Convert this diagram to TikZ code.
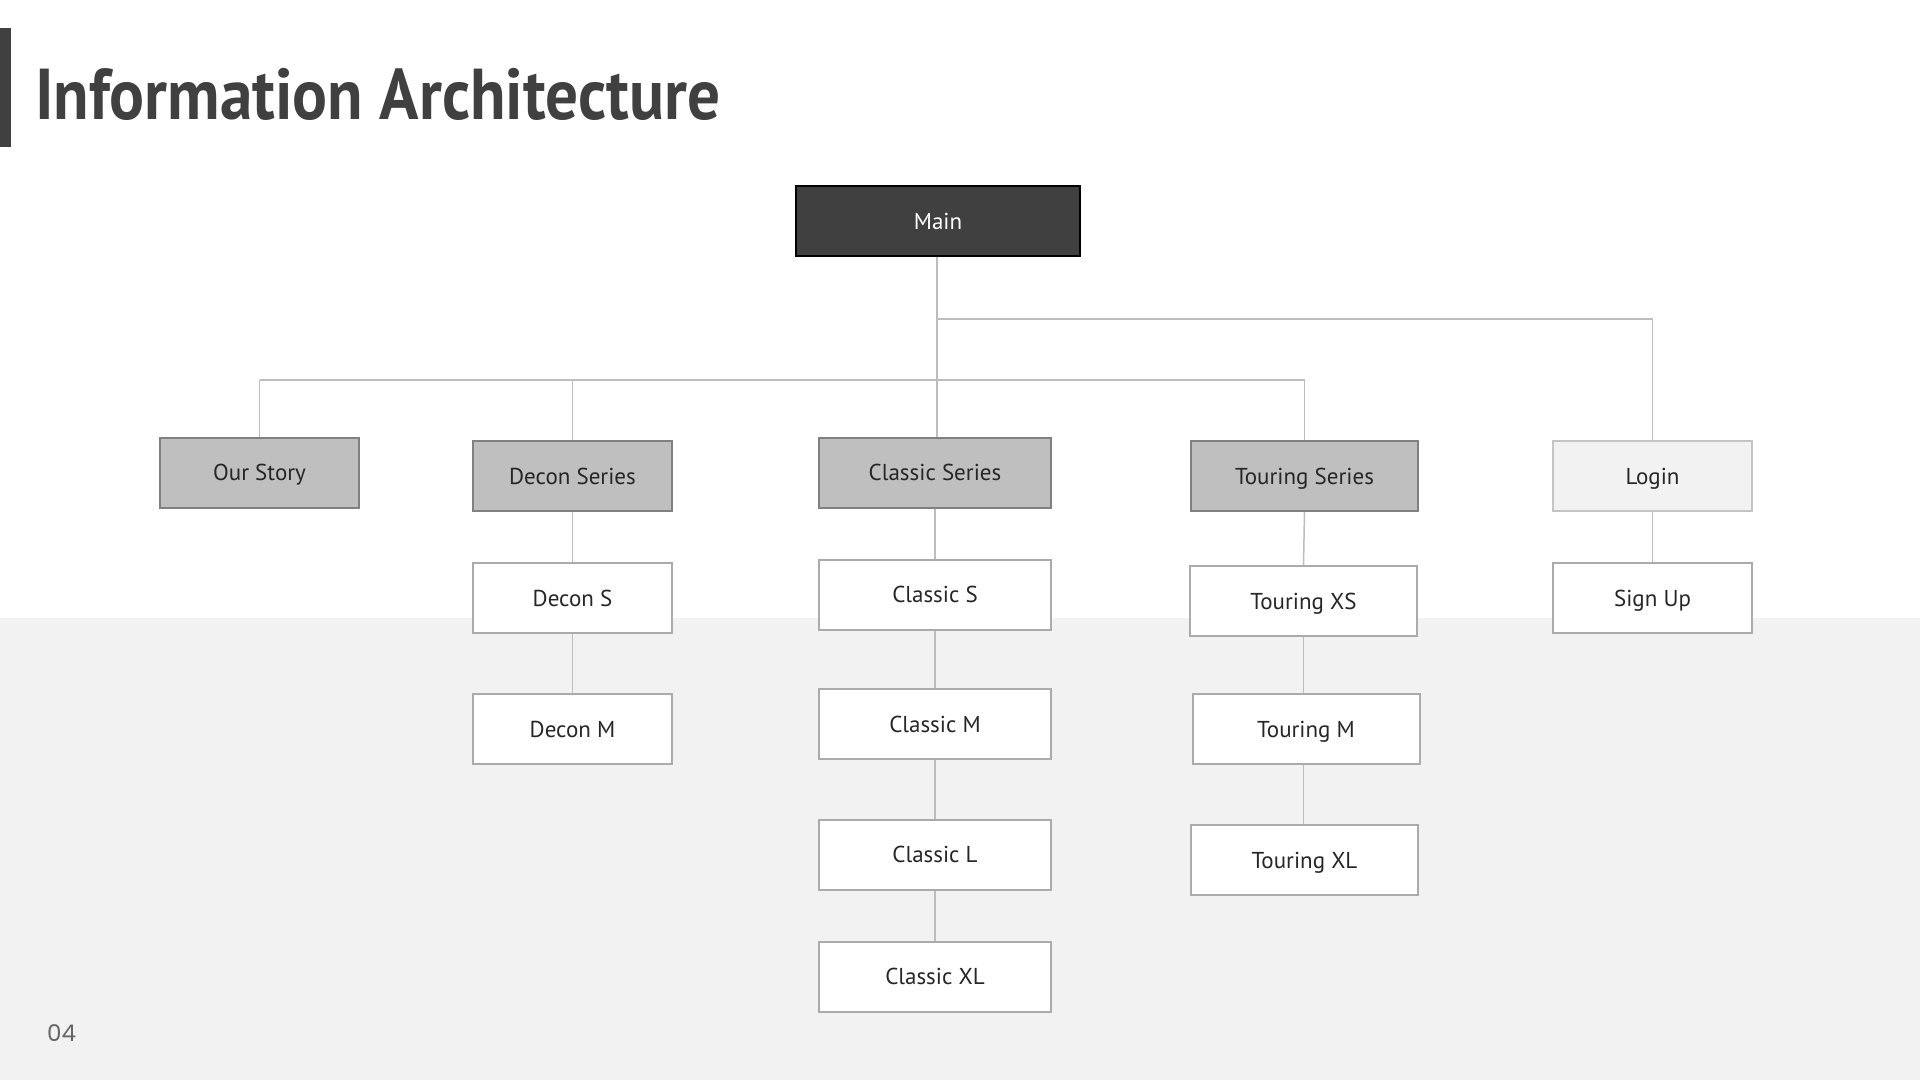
\documentclass[tikz,border=0pt]{standalone}
\usepackage{fontspec}
\setmainfont{PT Sans}
\newfontfamily\numfont{Poppins}
\definecolor{dark}{HTML}{404040}
\definecolor{txt}{HTML}{262626}
\definecolor{graybox}{HTML}{BFBFBF}
\definecolor{grayedge}{HTML}{808080}
\definecolor{whiteedge}{HTML}{ABABAB}
\definecolor{lightfill}{HTML}{F2F2F2}
\definecolor{lightedge}{HTML}{C4C4C4}
\definecolor{conn}{HTML}{BDBDBD}
\definecolor{band}{HTML}{F2F2F2}
\tikzset{
  boxbase/.style={rectangle, inner sep=0pt, minimum height=70pt, line width=2pt,
    text height=16.5pt, text depth=0pt,
    font=\fontsize{23}{27}\selectfont, text=txt},
  mainbox/.style={boxbase, fill=dark, draw=black, text=white},
  secbox/.style={boxbase, fill=graybox, draw=grayedge},
  leafbox/.style={boxbase, fill=white, draw=whiteedge},
  loginbox/.style={boxbase, fill=lightfill, draw=lightedge},
  link/.style={draw=conn, line width=1.5pt}
}
\begin{document}
\begin{tikzpicture}[x=1pt,y=-1pt]
\useasboundingbox (0,0) rectangle (1920,1080);
\fill[white] (0,0) rectangle (1920,1080);
\fill[band] (0,618) rectangle (1920,1080);
% title
\fill[dark] (0,28) rectangle (11,147);
\node[anchor=base west, inner sep=0pt, text=dark, font=\fontsize{72}{80}\selectfont\bfseries] (title) at (35,119) {\scalebox{0.905}[1]{Information Architecture}};
\node[anchor=base west, inner sep=0pt, text=dark!80, font=\numfont\fontsize{23}{26}\selectfont] (pnum) at (47,1041) {04};
% nodes
\node[mainbox, minimum width=284pt] (main) at (938,221) {Main};
\node[secbox, minimum width=199pt] (story) at (259.5,472.5) {Our Story};
\node[secbox, minimum width=199pt] (decon) at (572.5,476) {Decon Series};
\node[secbox, minimum width=232pt] (classic) at (935,472.5) {Classic Series};
\node[secbox, minimum width=227pt] (touring) at (1304.5,476) {Touring Series};
\node[loginbox, minimum width=199pt] (login) at (1652.5,476) {Login};
\node[leafbox, minimum width=199pt] (deconS) at (572.5,598) {Decon S};
\node[leafbox, minimum width=199pt] (deconM) at (572.5,729) {Decon M};
\node[leafbox, minimum width=232pt] (classicS) at (935,594.5) {Classic S};
\node[leafbox, minimum width=232pt] (classicM) at (935,724) {Classic M};
\node[leafbox, minimum width=232pt] (classicL) at (935,854.5) {Classic L};
\node[leafbox, minimum width=232pt] (classicXL) at (935,976.5) {Classic XL};
\node[leafbox, minimum width=227pt] (touringXS) at (1303.5,601) {Touring XS};
\node[leafbox, minimum width=227pt] (touringM) at (1306,729) {Touring M};
\node[leafbox, minimum width=227pt] (touringXL) at (1304.5,860) {Touring XL};
\node[leafbox, minimum width=199pt] (signup) at (1652.5,598) {Sign Up};
% connectors
\coordinate (hubA) at (937,319);
\coordinate (hubB) at (937,380);
\draw[link] (main.south -| hubA) -- (hubA |- classic.north);
\draw[link] (hubA) -| (login.north);
\draw[link] (hubB -| story.north) -- (hubB -| touring.north);
\draw[link] (hubB -| story.north) -- (story.north);
\draw[link] (hubB -| decon.north) -- (decon.north);
\draw[link] (hubB -| touring.north) -- (touring.north);
\draw[link] (decon.south) -- (deconS.north);
\draw[link] (deconS.south) -- (deconM.north);
\draw[link] (classic.south) -- (classicS.north);
\draw[link] (classicS.south) -- (classicM.north);
\draw[link] (classicM.south) -- (classicL.north);
\draw[link] (classicL.south) -- (classicXL.north);
\draw[link] (touring.south) -- (touringXS.north);
\draw[link] (touringXS.south) -- (touringXS.south |- touringM.north);
\draw[link] (touringM.south -| touringXS.south) -- (touringXS.south |- touringXL.north);
\draw[link] (login.south) -- (signup.north);
\end{tikzpicture}
\end{document}
